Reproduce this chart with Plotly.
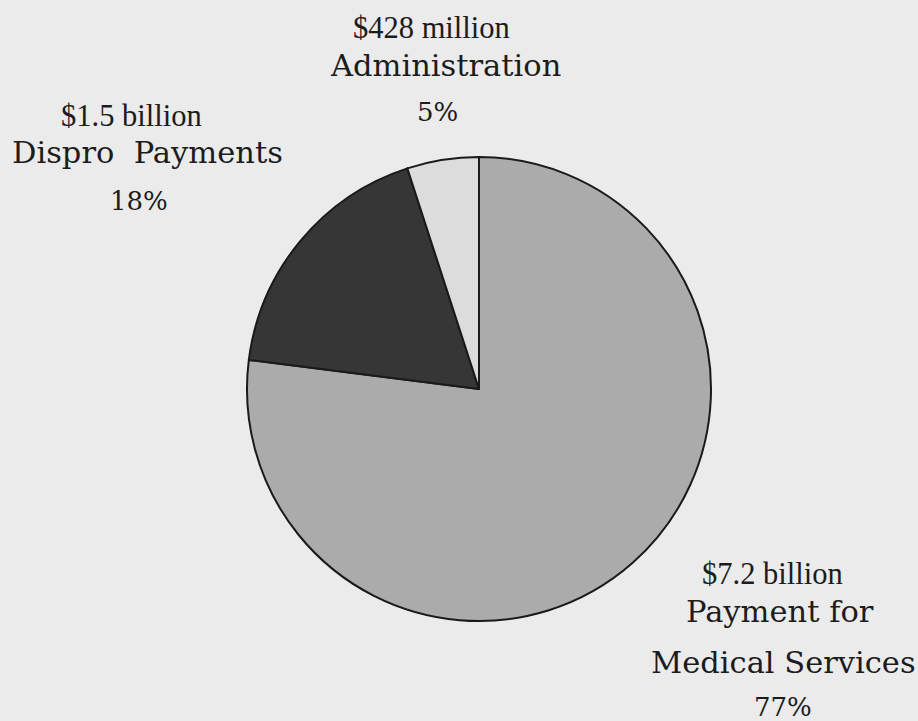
import plotly.graph_objects as go

# Spending breakdown
categories = ["Payment for Medical Services", "Dispro Payments", "Administration"]
amounts = ["$7.2 billion", "$1.5 billion", "$428 million"]
percents = [77, 18, 5]

slice_colors = ["#ababab", "#363636", "#dcdcdc"]

W, H = 918, 721
cx, cy, r = 479, 389, 232  # pie centre / radius in pixels


def px(x):
    return x / W


def py(y):
    return 1 - y / H


fig = go.Figure(
    go.Pie(
        labels=categories,
        values=percents,
        sort=False,
        direction="clockwise",
        rotation=0,
        marker=dict(colors=slice_colors, line=dict(color="#1a1a1a", width=2)),
        textinfo="none",
        hoverinfo="label+percent",
        showlegend=False,
        domain=dict(x=[px(cx - r), px(cx + r)], y=[py(cy + r), py(cy - r)]),
    )
)

ink = "#1c1c1c"
amount_font = dict(family="Liberation Serif", size=30.5, color=ink)
name_font = dict(family="DejaVu Serif", size=30.5, color=ink)
pct_font = dict(family="DejaVu Serif", size=26, color=ink)

# label blocks: category index, amount (x, y), name lines [(text, x, y)], percent (x, y)
label_blocks = [
    (2, (431, 28), [("Administration", 445, 66)], (437, 112)),
    (1, (131, 116), [("Dispro  Payments", 147, 152)], (139, 201)),
    (0, (772, 574), [("Payment for", 780, 611), ("Medical Services", 783, 662)], (783, 707)),
]

annotations = []
for idx, (ax, ay), name_lines, (pxx, pyy) in label_blocks:
    annotations.append(dict(text=amounts[idx], x=px(ax), y=py(ay),
                            xref="paper", yref="paper", showarrow=False,
                            xanchor="center", yanchor="middle", font=amount_font))
    for line, lx, ly in name_lines:
        annotations.append(dict(text=line, x=px(lx), y=py(ly),
                                xref="paper", yref="paper", showarrow=False,
                                xanchor="center", yanchor="middle", font=name_font))
    annotations.append(dict(text=f"{percents[idx]}%", x=px(pxx), y=py(pyy),
                            xref="paper", yref="paper", showarrow=False,
                            xanchor="center", yanchor="middle", font=pct_font))

fig.update_layout(
    width=W,
    height=H,
    margin=dict(l=0, r=0, t=0, b=0),
    paper_bgcolor="#ebebeb",
    plot_bgcolor="#ebebeb",
    annotations=annotations,
)

fig.write_html("out.html")
